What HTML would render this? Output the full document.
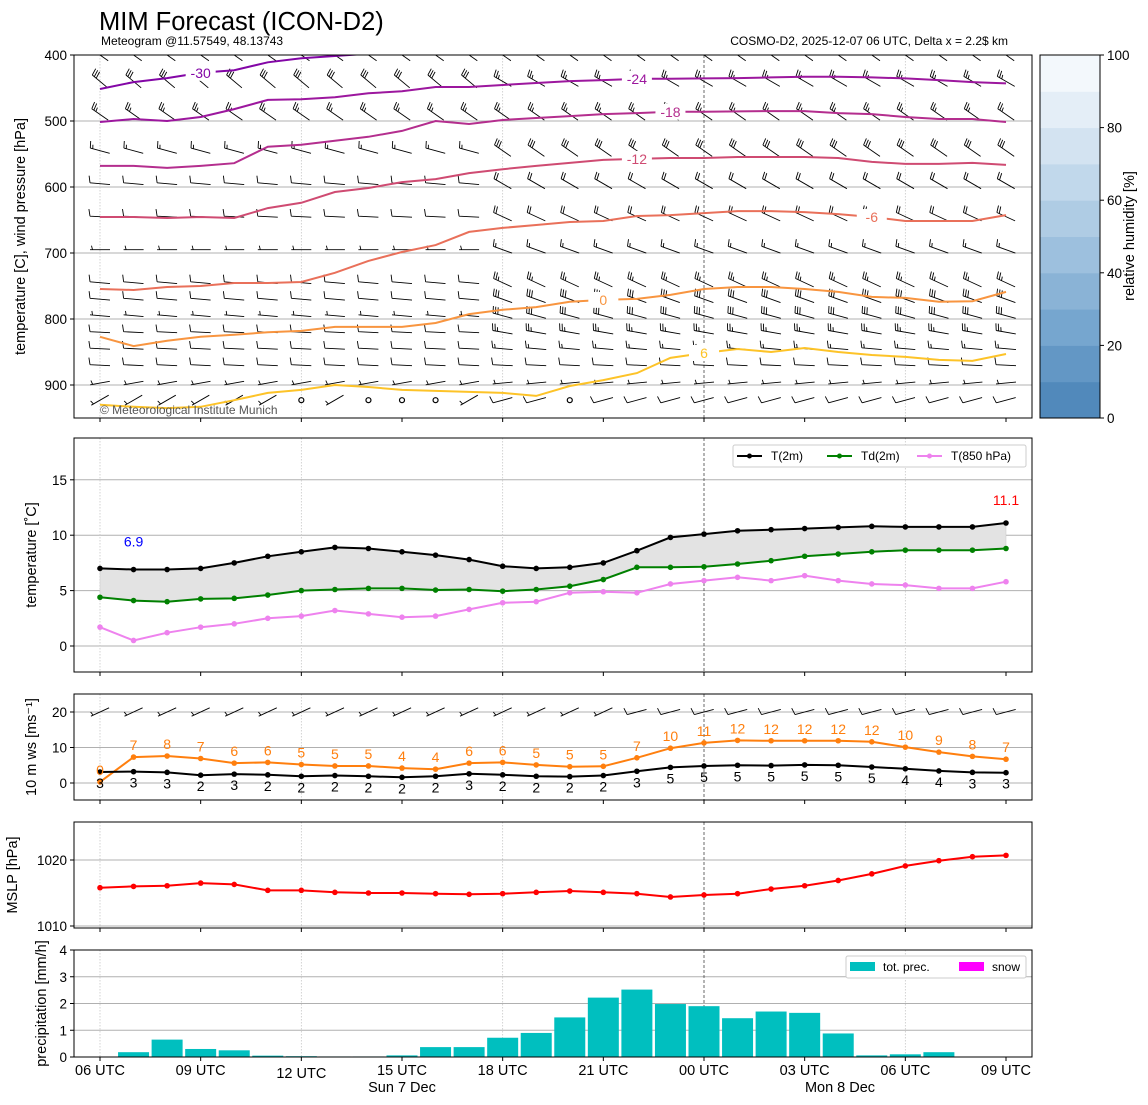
<!DOCTYPE html>
<html><head><meta charset="utf-8"><style>
html,body{margin:0;padding:0;background:#fff;}
svg{display:block;font-family:"Liberation Sans","DejaVu Sans",sans-serif;}
</style></head><body>
<svg id="c" width="1148" height="1105" viewBox="0 0 1148 1105" xmlns="http://www.w3.org/2000/svg">
<text x="99" y="30" font-size="25.5" fill="#000">MIM Forecast (ICON-D2)</text>
<text x="101" y="45" font-size="12" fill="#000">Meteogram @11.57549, 48.13743</text>
<text x="1008" y="45" font-size="12" fill="#000" text-anchor="end">COSMO-D2, 2025-12-07 06 UTC, Delta x = 2.2$ km</text>
</svg>
<script>
// ---- data ----
const hours = ["06","07","08","09","10","11","12","13","14","15","16","17","18","19","20","21","22","23","00","01","02","03","04","05","06","07","08","09"];
const t2m = [7.0,6.9,6.9,7.0,7.5,8.1,8.5,8.9,8.8,8.5,8.2,7.8,7.2,7.0,7.1,7.5,8.6,9.8,10.1,10.4,10.5,10.6,10.7,10.8,10.75,10.75,10.75,11.1];
const td2m = [4.4,4.1,4.0,4.25,4.3,4.6,5.0,5.1,5.2,5.2,5.05,5.1,4.95,5.1,5.4,6.0,7.1,7.1,7.15,7.4,7.7,8.1,8.3,8.5,8.65,8.65,8.65,8.8];
const t850 = [1.7,0.5,1.2,1.7,2.0,2.5,2.7,3.2,2.9,2.6,2.7,3.3,3.9,4.0,4.8,4.9,4.8,5.6,5.9,6.2,5.9,6.35,5.9,5.6,5.5,5.2,5.2,5.8];
const gust = [0.3,7.3,7.6,6.9,5.6,5.8,5.2,4.8,4.8,4.2,3.9,5.6,5.8,5.1,4.6,4.7,7.1,9.8,11.3,12.0,11.9,11.9,11.9,11.6,10.1,8.7,7.5,6.7];
const gustLbl = [0,7,8,7,6,6,5,5,5,4,4,6,6,5,5,5,7,10,11,12,12,12,12,12,10,9,8,7];
const wspd = [3.1,3.2,3.0,2.2,2.5,2.3,1.9,2.1,1.9,1.6,1.9,2.6,2.3,1.9,1.8,2.1,3.3,4.4,4.8,5.0,4.9,5.1,5.0,4.5,4.0,3.4,3.0,2.9];
const wspdLbl = [3,3,3,2,3,2,2,2,2,2,2,3,2,2,2,2,3,5,5,5,5,5,5,5,4,4,3,3];
const mslp = [1015.8,1016.0,1016.1,1016.5,1016.3,1015.4,1015.4,1015.1,1015.0,1015.0,1014.9,1014.8,1014.9,1015.1,1015.3,1015.1,1014.9,1014.4,1014.7,1014.9,1015.6,1016.1,1016.9,1017.9,1019.1,1019.9,1020.5,1020.7];
const precip = [0.18,0.65,0.3,0.25,0.05,0.03,0.02,0.02,0.06,0.37,0.37,0.72,0.9,1.48,2.22,2.52,1.98,1.9,1.45,1.7,1.65,0.88,0.06,0.1,0.18,0,0];
const isoLevels = [-30,-24,-18,-12,-6,0,6];
const isoColors = ["#8306a6","#9c179e","#b42e8e","#cf4b72","#e9705a","#f89540","#fdc328"];
const isoM30 = [451.5,441,435,427,423,411,405,401.5,398,396,394,392,390,389,388,387,386,386,386,385,385,385,385,385,386,387,388,389];
const isoM24 = [501.5,497,500,494,482,468,467,464,458,455,448.5,448.5,445.5,442.5,439.5,438,436,436,435.5,435,434,433,433,434,435.5,438,441,443];
const isoM18 = [568,568,571,568,564,539,536,530,524,515,500,504.5,498.5,495.5,492.5,489.5,488,486,486,485.5,485,485,488,489.5,494,497,497,501.5];
const isoM12 = [645.5,645.5,647,645.5,647,632,624,607.5,601.5,592.5,588,579,573,568,563.5,559,557.5,556,556,554.5,554.5,554.5,556,562,565,565,563.5,566.5];
const isoM6 = [754.5,756,751.5,750,745.5,745.5,744,730,712,698.5,688,668,662,657.5,653,651.5,644,642.5,639.5,636.5,636.5,638,641,645.5,651.5,651.5,651.5,642.5];
const iso0 = [827,841,833,827,824,820,818,812,812,812,806,792.5,786,782,774,771,769.5,763.5,754.5,751.5,751.5,754.5,759,766.5,768,774,773,759];
const iso6 = [930,933,935,933,923,912,907.5,900,903,907.5,909,910.5,912,916.5,901.5,892.5,882,859,851.5,845.5,850,844,850,854.5,857.5,862,863.5,853];
const isoLabelIdx = [3,16,17,16,23,15,18];
const barbLevels = [400,440,490,545,595,645,695,745,770,795,820,845,870,897,923];
const barbSpd1 = [30,30,25,15,10,10,8,10,10,8,10,10,10,5,5];
const barbSpd2 = [20,25,25,30,20,20,15,25,30,30,25,15,10,5,10];
const barbAng1 = [35,40,35,15,5,3,0,5,5,5,3,3,3,-10,-30];
const barbAng2 = [35,30,35,35,30,25,20,25,20,15,10,5,3,-5,-15];
const calmIdx = [6,8,9,10,14];
const pTicks = [400,500,600,700,800,900];
const rhTicks = [0,20,40,60,80,100];
const tTicks = [0,5,10,15];
const wTicks = [0,10,20];
const mTicks = [1010,1020];
const prTicks = [0,1,2,3,4];
const xTickLbl = ["06 UTC","09 UTC","12 UTC","15 UTC","18 UTC","21 UTC","00 UTC","03 UTC","06 UTC","09 UTC"];

// ---- helpers ----
const S = document.getElementById('c');
const NS = 'http://www.w3.org/2000/svg';
function mk(tag, at, parent){ const e=document.createElementNS(NS,tag); for(const k in at) e.setAttribute(k,at[k]); (parent||S).appendChild(e); return e; }
function txt(x,y,s,at){ const e=mk('text',Object.assign({x:x,y:y,'font-size':13.5,fill:'#000'},at||{})); e.textContent=s; return e; }
const X0=74, X1=1032;
const xs = i => 100 + i*906/27;
const yP = p => 55 + (p-400)*0.66;
const yT = v => 646 - v*11.08;
const yW = v => 783 - v*3.55;
const yM = v => 860 - (v-1020)*6.6;
const yR = v => 1057 - v*26.75;

function panel(name, top, bot, ticks, yf, fmt, title, titleX){
  const g=mk('g',{});
  
  
  ticks.forEach(t=>{
    const y=yf(t);
    const l=mk('line',{x1:X0,x2:X1,y1:y,y2:y,stroke:'#b0b0b0','stroke-width':1},g);
    
    
    mk('line',{x1:X0-4,x2:X0,y1:y,y2:y,stroke:'#000'},g);
    const tl=txt(X0-7,y+5,fmt(t),{'text-anchor':'end'});
    
    
    g.appendChild(tl);
  });
  [0,6,12,24].forEach(h=>{ mk('line',{x1:xs(h),x2:xs(h),y1:top,y2:bot,stroke:'#c8c8c8','stroke-width':0.8,'stroke-dasharray':'1.5,1.5'},g); });
  mk('line',{x1:xs(18),x2:xs(18),y1:top,y2:bot,stroke:'#444','stroke-width':0.8,'stroke-dasharray':'3,2'},g);
  for(let k=0;k<10;k++){ mk('line',{x1:xs(k*3),x2:xs(k*3),y1:bot,y2:bot+4,stroke:'#000'},g); }
  const cy=(top+bot)/2;
  const tt=txt(titleX,cy,title,{'text-anchor':'middle',transform:`rotate(-90 ${titleX} ${cy})`,'font-size':14.5});
  
  
  return g;
}
function frame(top,bot,name){
  const r=mk('rect',{x:X0,y:top,width:X1-X0,height:bot-top,fill:'none',stroke:'#000','stroke-width':1});
  
  
}
function series(vals,yf,color,name,marker){
  const pts=vals.map((v,i)=>xs(i).toFixed(1)+','+yf(v).toFixed(1)).join(' ');
  const pl=mk('polyline',{points:pts,fill:'none',stroke:color,'stroke-width':2});
  
  
  if(marker) vals.forEach((v,i)=>{
    const c=mk('circle',{cx:xs(i),cy:yf(v),r:2.8,fill:color});
    
    
  });
}

// ---- top panel ----
panel('pressure-panel',55,418,pTicks,yP,t=>String(t),'temperature [C], wind pressure [hPa]',25);
const clip=mk('clipPath',{id:'cp'}); mk('rect',{x:X0,y:55,width:X1-X0,height:363},clip);
const gTop=mk('g',{'clip-path':'url(#cp)'});
function barb(cx,cy,spd,ang,g){
  const a=ang*Math.PI/180, L=20, ca=Math.cos(a), sa=Math.sin(a);
  const x0=cx-L/2*ca, y0=cy-L/2*sa, x1=cx+L/2*ca, y1=cy+L/2*sa;
  let d=`M${x0.toFixed(1)},${y0.toFixed(1)}L${x1.toFixed(1)},${y1.toFixed(1)}`;
  let full=Math.floor(spd/10), half=(spd%10)>=5?1:0, off=0;
  const px=sa, py=-ca;
  for(let k=0;k<full;k++){ const bx=x0+off*ca,by=y0+off*sa; d+=`M${bx.toFixed(1)},${by.toFixed(1)}l${(px*7-ca*1.5).toFixed(1)},${(py*7-sa*1.5).toFixed(1)}`; off+=2.5; }
  if(half){ if(full===0) off=2.5; const bx=x0+off*ca,by=y0+off*sa; d+=`M${bx.toFixed(1)},${by.toFixed(1)}l${(px*4-ca).toFixed(1)},${(py*4-sa).toFixed(1)}`; }
  const p=mk('path',{d:d,stroke:'#000','stroke-width':0.9,fill:'none'},g);
  
  
}
barbLevels.forEach((lv,j)=>{
  for(let i=0;i<28;i++){
    if(j===barbLevels.length-1 && calmIdx.indexOf(i)>=0){
      const c=mk('circle',{cx:xs(i),cy:yP(lv),r:2.5,fill:'none',stroke:'#000','stroke-width':1.2},gTop);
      
      
      continue;
    }
    const late=i>=12;
    barb(xs(i),yP(lv),late?barbSpd2[j]:barbSpd1[j],late?barbAng2[j]:barbAng1[j],gTop);
  }
});
const isoData=[isoM30,isoM24,isoM18,isoM12,isoM6,iso0,iso6];
isoData.forEach((arr,k)=>{
  const pts=arr.map((p,i)=>xs(i).toFixed(1)+','+yP(p).toFixed(1)).join(' ');
  const pl=mk('polyline',{points:pts,fill:'none',stroke:isoColors[k],'stroke-width':2},gTop);
  
  
  const li=isoLabelIdx[k], lx=xs(li), ly=yP(arr[li]);
  mk('rect',{x:lx-15,y:ly-8,width:30,height:16,fill:'#fff'},gTop);
  const t=txt(lx,ly+5,String(isoLevels[k]),{'text-anchor':'middle',fill:isoColors[k],'font-size':14});
  gTop.appendChild(t);
  
  
});
const cr=txt(100,414,'© Meteorological Institute Munich',{'font-size':12,fill:'#555'});


frame(55,418,'pressure-panel');
const cb=mk('g',{});


const blues=["#5189bb","#6397c5","#76a6cf","#8ab3d6","#9dc0de","#afcce4","#c1d8eb","#d3e3f1","#e4eef7","#f3f8fc"];
const yRH = v => 418 - v*3.63;
blues.forEach((c,k)=>{ mk('rect',{x:1040,y:yRH((k+1)*10),width:60,height:yRH(k*10)-yRH((k+1)*10)+0.5,fill:c},cb); });
mk('rect',{x:1040,y:55,width:60,height:363,fill:'none',stroke:'#000'},cb);
rhTicks.forEach(t=>{ mk('line',{x1:1100,x2:1104,y1:yRH(t),y2:yRH(t),stroke:'#000'},cb); const l=txt(1107,yRH(t)+5,String(t)); cb.appendChild(l); });
txt(1134,236,'relative humidity [%]',{'text-anchor':'middle',transform:'rotate(-90 1134 236)','font-size':14.5});

// ---- temperature panel ----
panel('temperature-panel',438,672,tTicks,yT,t=>String(t),'temperature [˚C]',36);
const fillPts=t2m.map((v,i)=>xs(i).toFixed(1)+','+yT(v).toFixed(1)).concat(td2m.map((v,i)=>xs(i).toFixed(1)+','+yT(v).toFixed(1)).reverse()).join(' ');
const fp=mk('polygon',{points:fillPts,fill:'#e3e3e3',stroke:'#c8c8c8','stroke-width':0.5});


series(t850,yT,'#ee82ee','t850',true);
series(td2m,yT,'#008000','td2m',true);
series(t2m,yT,'#000','t2m',true);
const mn=Math.min(...t2m), mx=Math.max(...t2m);
const mnT=txt(xs(t2m.indexOf(mn)),yT(mn)-23,mn.toFixed(1),{'text-anchor':'middle',fill:'#0000ff','font-size':14});


const mxT=txt(xs(t2m.indexOf(mx)),yT(mx)-18,mx.toFixed(1),{'text-anchor':'middle',fill:'#ff0000','font-size':14});


frame(438,672,'temperature-panel');
const lg=mk('g',{});


mk('rect',{x:733,y:445,width:293,height:22,rx:2,fill:'#fff',stroke:'#ccc'},lg);
[['T(2m)','#000',737],['Td(2m)','#008000',827],['T(850 hPa)','#ee82ee',917]].forEach(e=>{
  const le=mk('g',{},lg);
  
  
  mk('line',{x1:e[2],x2:e[2]+25,y1:456,y2:456,stroke:e[1],'stroke-width':2},le);
  mk('circle',{cx:e[2]+12.5,cy:456,r:2.5,fill:e[1]},le);
  const t=txt(e[2]+34,460,e[0],{'font-size':12}); le.appendChild(t);
});

// ---- wind panel ----
panel('wind-panel',694,800,wTicks,yW,t=>String(t),'10 m ws [ms⁻¹]',36);
for(let i=0;i<28;i++){ barb(xs(i),yW(20),i<16?5:10,i<16?-25:-15,S); }
series(gust,yW,'#ff7f0e','gust',true);
series(wspd,yW,'#000','wind-speed',true);
gust.forEach((v,i)=>{ const t=txt(xs(i),yW(v)-7,String(gustLbl[i]),{'text-anchor':'middle',fill:'#ff7f0e','font-size':14});   });
wspd.forEach((v,i)=>{ const t=txt(xs(i),yW(v)+16,String(wspdLbl[i]),{'text-anchor':'middle','font-size':14});   });
frame(694,800,'wind-panel');

// ---- mslp panel ----
panel('mslp-panel',822,928,mTicks,yM,t=>String(t),'MSLP [hPa]',17);
series(mslp,yM,'#ff0000','mslp',true);
frame(822,928,'mslp-panel');

// ---- precip panel ----
panel('precip-panel',950,1057,prTicks,yR,t=>String(t),'precipitation [mm/h]',46);
precip.forEach((v,k)=>{
  const x=xs(k+1), w=31;
  const r=mk('rect',{x:x-w/2,y:yR(v),width:w,height:Math.max(0,yR(0)-yR(v)),fill:'#00bfbf'});
  
  
});
frame(950,1057,'precip-panel');
const pl=mk('g',{});


mk('rect',{x:846,y:956,width:180,height:22,rx:2,fill:'#fff',stroke:'#ccc'},pl);
mk('rect',{x:850,y:962,width:25,height:9,fill:'#00bfbf'},pl);
pl.appendChild(txt(883,971,'tot. prec.',{'font-size':12}));
mk('rect',{x:959,y:962,width:25,height:9,fill:'#ff00ff'},pl);
pl.appendChild(txt(992,971,'snow',{'font-size':12}));

xTickLbl.forEach((s,k)=>{ const t=txt(xs(k*3),k===2?1078:1075,s,{'text-anchor':'middle','font-size':14.5});   });
const d1=txt(402,1092,'Sun 7 Dec',{'text-anchor':'middle','font-size':14.5});  
const d2=txt(840,1092,'Mon 8 Dec',{'text-anchor':'middle','font-size':14.5});  
</script>
</body></html>
